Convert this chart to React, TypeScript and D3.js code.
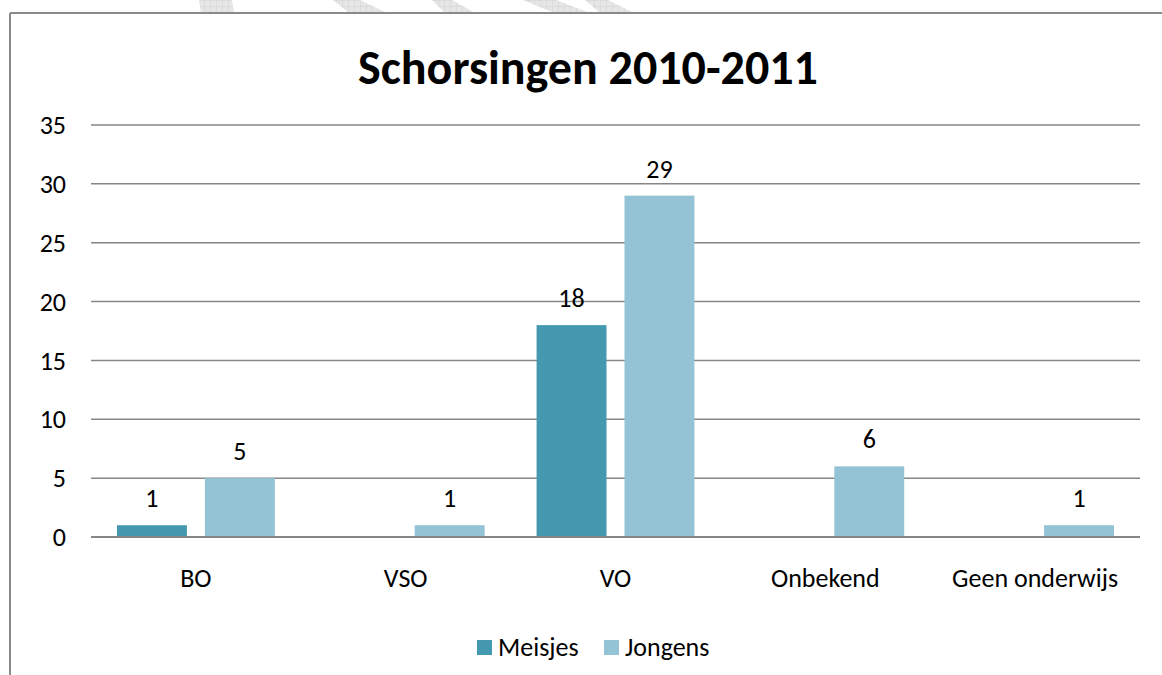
import React from 'react'
import * as d3 from 'd3'

const categories = ['BO', 'VSO', 'VO', 'Onbekend', 'Geen onderwijs']
const seriesNames = ['Meisjes', 'Jongens']
const meisjes = [1, 0, 18, 0, 0]
const jongens = [5, 1, 29, 6, 1]
const yTicks = [0, 5, 10, 15, 20, 25, 30, 35]
const title = 'Schorsingen 2010-2011'

const colors = ['#4499b0', '#93c3d5']
const FONT = "Calibri, Carlito, 'Open Sans', 'Noto Sans', sans-serif"

// faint watermark shapes above the frame (decoration from the scanned page)
const watermark = [
  [[199, 0], [232, 0], [234, 13], [201, 13]],
  [[333, 0], [360, 0], [387, 13], [349, 13]],
  [[432, 0], [452, 0], [475, 13], [445, 13]],
  [[523, 0], [556, 0], [590, 13], [554, 13]],
  [[585, 0], [608, 0], [634, 13], [600, 13]],
]

export default function App() {
  const width = 1162
  const height = 675
  const fs = 26

  const x = d3.scaleBand<string>().domain(categories).range([91, 1140]).padding(0)
  const inner = d3.scaleBand<string>()
    .domain(seriesNames)
    .range([0, x.bandwidth()])
    .paddingInner(0.2045)
    .paddingOuter(0.2955)
  const y = d3.scaleLinear().domain([0, 35]).range([537, 125])

  const series = [meisjes, jongens]

  return <svg {...{width, height}} style={{position: 'absolute', left: 0, top: 0, background: '#fff'}}
    fontFamily={FONT}>
    <defs>
      <pattern id="hatch" width="6" height="6" patternUnits="userSpaceOnUse">
        <rect width="6" height="6" fill="#e6e6e6" />
        <path d="M0 0 V6 M0 0 H6" stroke="#d2d2d2" strokeWidth="1" />
      </pattern>
    </defs>
    {watermark.map((pts, i) =>
      <polygon key={i} points={pts.map(p => p.join(',')).join(' ')} fill="url(#hatch)" />
    )}

    {/* chart frame */}
    <line x1={10} x2={1162} y1={13} y2={13} stroke="#8a8a8a" strokeWidth={2} />
    <line x1={10} x2={10} y1={13} y2={675} stroke="#8a8a8a" strokeWidth={2} />

    <text x={588} y={84} textAnchor="middle" fontSize={48} fontWeight="bold" fill="#000">{title}</text>

    {yTicks.map(t => <g key={t}>
      <line x1={91} x2={1140} y1={y(t)} y2={y(t)} stroke="#868686" strokeWidth={1.5} />
      <text x={66} y={y(t)} dy="0.35em" textAnchor="end" fontSize={fs} fill="#000">{t}</text>
    </g>)}

    {categories.map((cat, ci) => <g key={cat} transform={`translate(${x(cat)},0)`}>
      {series.map((vals, si) => {
        const v = vals[ci]
        const bx = inner(seriesNames[si])
        return <g key={si}>
          {v > 0 && <rect x={bx} y={y(v)} width={inner.bandwidth()} height={y(0) - y(v)} fill={colors[si]} />}
          {v > 0 && <text x={bx + inner.bandwidth() / 2} y={y(v) - 18} textAnchor="middle" fontSize={fs} fill="#000">{v}</text>}
        </g>
      })}
      <text x={x.bandwidth() / 2} y={578} dy="0.35em" textAnchor="middle" fontSize={fs} fill="#000">{cat}</text>
    </g>)}

    <line x1={91} x2={1140} y1={y(0)} y2={y(0)} stroke="#868686" strokeWidth={2} />

    {seriesNames.map((name, i) => {
      const lx = i === 0 ? 477 : 604
      return <g key={name}>
        <rect x={lx} y={640} width={15} height={15} fill={colors[i]} />
        <text x={lx + 21} y={647} dy="0.35em" fontSize={fs} fill="#000">{name}</text>
      </g>
    })}
  </svg>
}
